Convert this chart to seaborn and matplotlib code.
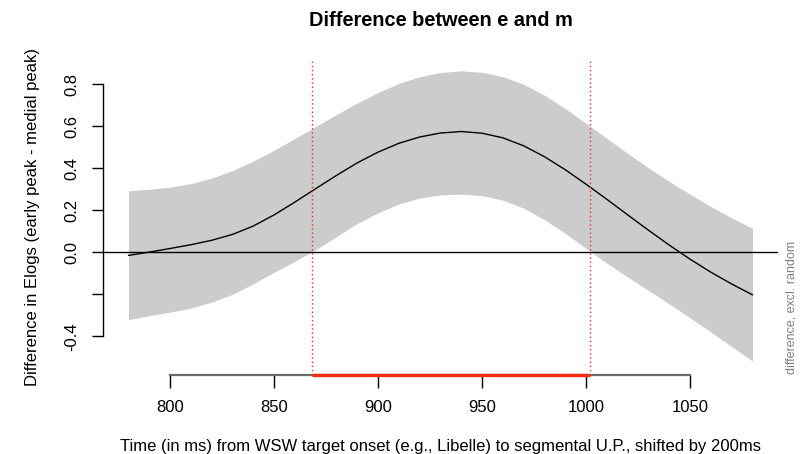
import numpy as np
import pandas as pd
import matplotlib
matplotlib.use("Agg")
import matplotlib.pyplot as plt
import seaborn as sns

# ---- data ----
time_ms = [780, 790, 800, 810, 820, 830, 840, 850, 860, 870, 880, 890, 900, 910, 920,
           930, 940, 950, 960, 970, 980, 990, 1000, 1010, 1020, 1030, 1040, 1050, 1060,
           1070, 1080]
diff_est = [-0.015, 0.001, 0.018, 0.036, 0.057, 0.085, 0.125, 0.178, 0.239, 0.303,
            0.366, 0.426, 0.477, 0.519, 0.549, 0.568, 0.575, 0.567, 0.545, 0.507,
            0.455, 0.393, 0.324, 0.252, 0.178, 0.105, 0.034, -0.033, -0.095, -0.151,
            -0.203]
ci_upper = [0.293, 0.300, 0.310, 0.327, 0.353, 0.389, 0.434, 0.486, 0.542, 0.599,
            0.656, 0.711, 0.761, 0.804, 0.836, 0.856, 0.864, 0.857, 0.836, 0.800,
            0.748, 0.684, 0.614, 0.542, 0.471, 0.402, 0.337, 0.276, 0.218, 0.164,
            0.113]
ci_lower = [-0.321, -0.302, -0.285, -0.266, -0.238, -0.200, -0.150, -0.095, -0.043,
            0.012, 0.075, 0.137, 0.188, 0.230, 0.258, 0.273, 0.277, 0.270, 0.248,
            0.210, 0.155, 0.090, 0.018, -0.052, -0.118, -0.182, -0.246, -0.312,
            -0.380, -0.449, -0.518]
sig_start, sig_end = 868, 1002
x_ticks = [800, 850, 900, 950, 1000, 1050]
y_ticks = [-0.4, -0.2, 0.0, 0.2, 0.4, 0.6, 0.8]
y_ticklabels = ["-0.4", "", "0.0", "0.2", "0.4", "0.6", "0.8"]

title = "Difference between e and m"
xlabel = "Time (in ms) from WSW target onset (e.g., Libelle) to segmental U.P., shifted by 200ms"
ylabel = "Difference in Elogs (early peak - medial peak)"
side_note = "difference, excl. random"

df = pd.DataFrame({"time": time_ms, "est": diff_est, "lo": ci_lower, "hi": ci_upper})

sns.set_style("white")
plt.rcParams["font.family"] = ["Liberation Sans", "DejaVu Sans"]
plt.rcParams["text.color"] = "black"
plt.rcParams["axes.labelcolor"] = "black"
plt.rcParams["xtick.color"] = "black"
plt.rcParams["ytick.color"] = "black"

W, H = 810, 454
fig = plt.figure(figsize=(W / 100, H / 100), dpi=100)
L, R, T, B = 103.5, 777.5, 59.5, 374.5
ax = fig.add_axes([L / W, 1 - B / H, (R - L) / W, (B - T) / H])

ax.fill_between(df["time"], df["lo"], df["hi"], color="#cccccc", lw=0, zorder=1)
sns.lineplot(data=df, x="time", y="est", ax=ax, color="black", lw=1.0, zorder=3)
ax.axhline(0, color="black", lw=1.0, zorder=2)
for v in (sig_start, sig_end):
    ax.axvline(v, color="#ee2a2a", lw=1.0, ls=(0, (1, 2)), zorder=4)

ax.set_xlim(768, 1092)
ax.set_ylim(-0.582, 0.918)

for s in ("top", "right"):
    ax.spines[s].set_visible(False)
ax.spines["left"].set_bounds(-0.4, 0.8)
ax.spines["left"].set_color("black")
ax.spines["left"].set_linewidth(1.0)
ax.spines["bottom"].set_bounds(800, 1050)
ax.spines["bottom"].set_color("#6a6a6a")
ax.spines["bottom"].set_linewidth(1.6)
ax.hlines(-0.582, sig_start, sig_end, color="#ff2a10", lw=2.4, clip_on=False, zorder=6)

ax.set_xticks(x_ticks)
ax.set_xticklabels([str(t) for t in x_ticks])
ax.set_yticks(y_ticks)
ax.set_yticklabels(y_ticklabels)
ax.tick_params(axis="x", length=9, width=1, color="black", labelcolor="black", pad=9.0,
               labelsize=12, direction="out", bottom=True)
ax.tick_params(axis="y", length=8, width=1, color="black", labelcolor="black", pad=9.5,
               labelsize=12, direction="out", left=True)
plt.setp(ax.get_yticklabels(), rotation=90, va="center")
ax.set_xlabel("")
ax.set_ylabel("")
ax.grid(False)

fig.text(440.5 / W, 1 - 26 / H, title, ha="center", va="baseline",
         fontsize=14.4, fontweight="bold", color="black")
fig.text(441 / W, 1 - 450.5 / H, xlabel, ha="center", va="baseline", fontsize=12,
         color="black")
fig.text(33 / W, 1 - 217 / H, ylabel, ha="center", va="center", rotation=90, fontsize=12,
         color="black")
fig.text(792 / W, 1 - 374.5 / H, side_note, ha="center", va="bottom", rotation=90,
         fontsize=9, color="#808080")

fig.savefig("out.png", dpi=100)
